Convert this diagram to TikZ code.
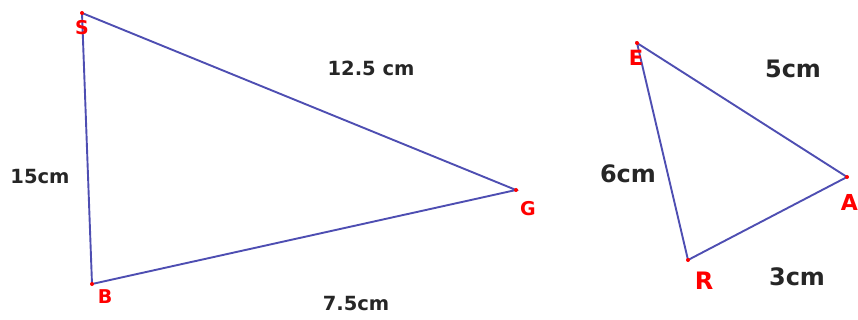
\documentclass[tikz,border=0pt]{standalone}
\usepackage{fontspec}
\setmainfont{DejaVu Sans}
\begin{document}
\begin{tikzpicture}[x=1pt,y=-1pt,
  side/.style={draw=edgeblue,line width=1.9pt},
  pt/.style={circle,fill=red,inner sep=0pt,minimum size=4pt},
  ptlab/.style={text=red,font=\bfseries\fontsize{#1}{#1}\selectfont,inner sep=0pt},
  lenS/.style={text=black!85,font=\bfseries\fontsize{19.5}{19.5}\selectfont,inner sep=0pt},
  lenL/.style={text=black!85,font=\bfseries\fontsize{24}{24}\selectfont,inner sep=0pt}]
\definecolor{edgeblue}{RGB}{78,78,178}
\useasboundingbox (0,0) rectangle (858,320);
% left triangle
\coordinate (S) at (82,13);
\coordinate (B) at (92,284);
\coordinate (G) at (516,190);
\draw[side] (S) -- (B) -- (G) -- cycle;
\node[pt] (s) at (S) {};
\node[pt] (b) at (B) {};
\node[pt] (g) at (G) {};
\node[ptlab=19] (ls) at (82,28) {S};
\node[ptlab=19] (lb) at (105,297) {B};
\node[ptlab=19] (lg) at (528,209) {G};
\node[lenS] (l1) at (371,68) {12.5 cm};
\node[lenS] (l2) at (40,177) {15cm};
\node[lenS] (l3) at (356,304) {7.5cm};
% right triangle
\coordinate (E) at (637,43);
\coordinate (A) at (847,177);
\coordinate (R) at (688,260);
\draw[side] (E) -- (A) -- (R) -- cycle;
\node[pt] (e) at (E) {};
\node[pt] (a) at (A) {};
\node[pt] (r) at (R) {};
\node[ptlab=21] (le) at (636,58) {E};
\node[ptlab=22,anchor=east] (la) at (858,202) {A};
\node[ptlab=24] (lr) at (704,281) {R};
\node[lenL] (l4) at (793,69) {5cm};
\node[lenL] (l5) at (628,174) {6cm};
\node[lenL] (l6) at (797,277) {3cm};
\end{tikzpicture}
\end{document}
